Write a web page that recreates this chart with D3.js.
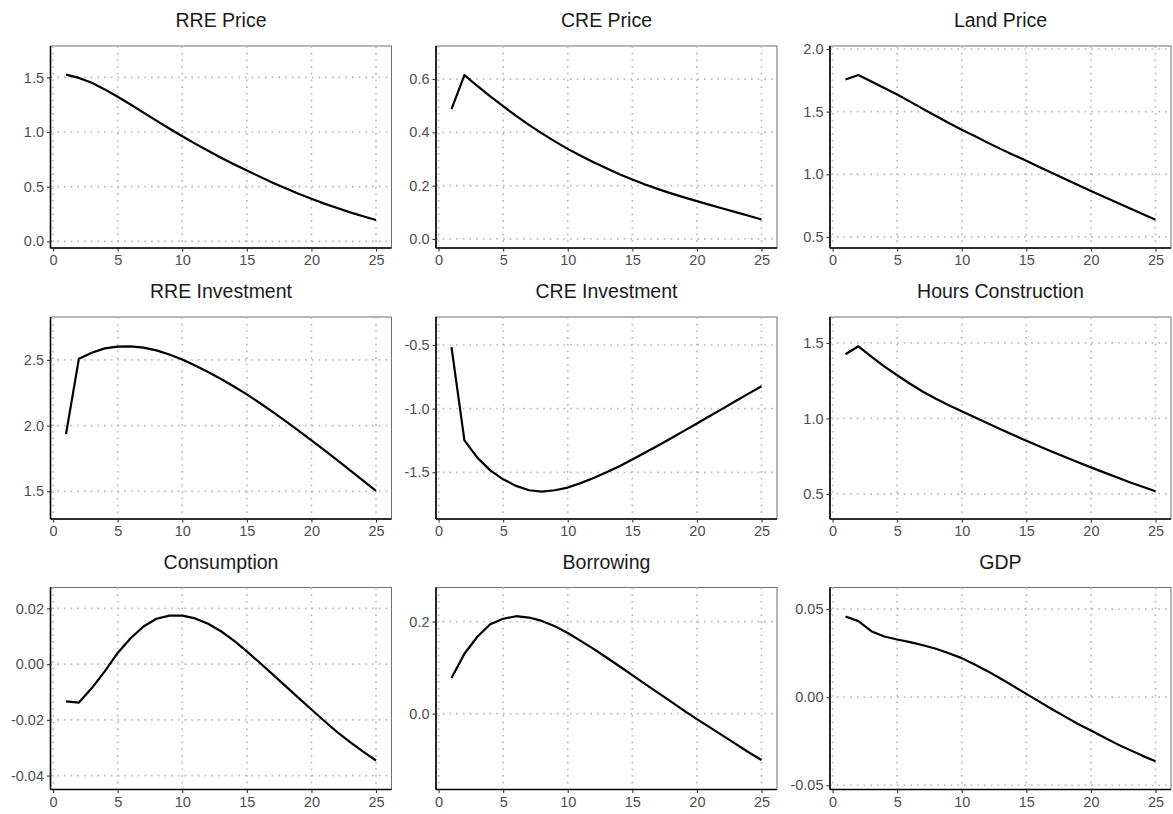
<!DOCTYPE html>
<html>
  <head>
    <meta charset='utf-8'>
    <title>Impulse responses</title>
    <script src='https://d3js.org/d3.v7.min.js'></script>
    <style>
      body { margin: 0; background: #fff; }
      text { font-family: 'Liberation Sans', Arial, sans-serif; }
    </style>
  </head>
  <body>
    <svg id='irf'></svg>
  </body>
</html>
<script>

// horizon (periods)
var periods = d3.range(1, 26);

var titles = ['RRE Price', 'CRE Price', 'Land Price',
              'RRE Investment', 'CRE Investment', 'Hours Construction',
              'Consumption', 'Borrowing', 'GDP'];

// responses
var rrePrice = [1.525, 1.495, 1.45, 1.39, 1.322, 1.252, 1.178, 1.104, 1.032, 0.962, 0.894, 0.828, 0.765,
                0.705, 0.648, 0.592, 0.537, 0.485, 0.435, 0.39, 0.345, 0.305, 0.265, 0.23, 0.195];
var crePrice = [0.487, 0.615, 0.574, 0.535, 0.498, 0.462, 0.428, 0.396, 0.366, 0.338, 0.312, 0.288, 0.265,
                0.243, 0.223, 0.204, 0.187, 0.171, 0.156, 0.142, 0.128, 0.114, 0.1005, 0.087, 0.073];
var landPrice = [1.757, 1.793, 1.74, 1.688, 1.637, 1.58, 1.522, 1.465, 1.41, 1.355, 1.305, 1.253, 1.203,
                 1.155, 1.108, 1.058, 1.01, 0.962, 0.914, 0.867, 0.821, 0.775, 0.73, 0.683, 0.637];
var rreInv = [1.935, 2.51, 2.555, 2.588, 2.602, 2.603, 2.594, 2.573, 2.542, 2.503, 2.458, 2.408, 2.355,
              2.298, 2.238, 2.172, 2.104, 2.034, 1.962, 1.888, 1.813, 1.737, 1.66, 1.582, 1.503];
var creInv = [-0.516, -1.249, -1.385, -1.485, -1.555, -1.607, -1.641, -1.652, -1.641, -1.62, -1.585, -1.545, -1.50,
              -1.452, -1.40, -1.345, -1.29, -1.233, -1.175, -1.117, -1.058, -1.0, -0.94, -0.882, -0.824];
var hoursCons = [1.425, 1.478, 1.41, 1.345, 1.286, 1.23, 1.177, 1.13, 1.088, 1.048, 1.008, 0.968, 0.929,
                 0.89, 0.853, 0.816, 0.78, 0.745, 0.71, 0.676, 0.643, 0.61, 0.578, 0.548, 0.518];
var consumption = [-0.0134, -0.0138, -0.0086, -0.0026, 0.004, 0.0093, 0.0135, 0.0163, 0.0174, 0.0174, 0.0164, 0.0145, 0.0118,
                   0.0084, 0.0046, 0.0005, -0.0037, -0.0079, -0.0121, -0.0163, -0.0204, -0.0244, -0.028, -0.0314, -0.0346];
var borrowing = [0.0775, 0.130, 0.167, 0.194, 0.206, 0.2116, 0.2087, 0.2014, 0.19, 0.175, 0.158, 0.1405, 0.1218,
                 0.1028, 0.0836, 0.0642, 0.0449, 0.0258, 0.0065, -0.012, -0.030, -0.048, -0.066, -0.084, -0.101];
var gdp = [0.0458, 0.0432, 0.0375, 0.0345, 0.0328, 0.0313, 0.0295, 0.0275, 0.025, 0.0222, 0.0186, 0.0148, 0.0106,
           0.0063, 0.0019, -0.0025, -0.0068, -0.011, -0.0152, -0.0189, -0.0227, -0.0265, -0.0299, -0.0333, -0.0364];

var series = [rrePrice, crePrice, landPrice, rreInv, creInv, hoursCons, consumption, borrowing, gdp];

// free y scales, one per panel
var yDomains = [[-0.061, 1.787], [-0.034, 0.724], [0.412, 2.024],
                [1.289, 2.827], [-1.867, -0.28], [0.334, 1.672],
                [-0.045, 0.0275], [-0.165, 0.274], [-0.0524, 0.0623]];
var yTicks = [[0, 0.5, 1, 1.5], [0, 0.2, 0.4, 0.6], [0.5, 1, 1.5, 2],
              [1.5, 2, 2.5], [-1.5, -1, -0.5], [0.5, 1, 1.5],
              [-0.04, -0.02, 0, 0.02], [0, 0.2], [-0.05, 0, 0.05]];
var yDigits = [1, 1, 1, 1, 1, 1, 2, 1, 2];
var xTicks = [0, 5, 10, 15, 20, 25];

var W = 1173, H = 814;
var panelW = 341, panelH = 202;
var colLeft = [50.5, 436, 830];
var rowTop = [46, 317, 587.5];

var svg = d3.select('#irf').attr('width', W).attr('height', H);

var x = d3.scaleLinear().domain([-0.2, 26.2]).range([0, panelW]);

series.forEach(function(vals, i){
    var col = i % 3, row = Math.floor(i / 3);
    var g = svg.append('g')
        .attr('transform', 'translate(' + colLeft[col] + ',' + rowTop[row] + ')');

    var y = d3.scaleLinear().domain(yDomains[i]).range([panelH, 0]);

    // panel frame
    g.append('rect')
        .attr('width', panelW).attr('height', panelH)
        .attr('fill', '#fff').attr('stroke', '#4d4d4d').attr('stroke-width', 0.8);

    // dotted grid
    g.selectAll('.gx').data(xTicks).join('line')
        .attr('x1', d => x(d)).attr('x2', d => x(d))
        .attr('y1', 0).attr('y2', panelH)
        .attr('stroke', '#bbbbbb').attr('stroke-width', 1.7)
        .attr('stroke-dasharray', '1.7,5');
    g.selectAll('.gy').data(yTicks[i]).join('line')
        .attr('y1', d => y(d)).attr('y2', d => y(d))
        .attr('x1', 0).attr('x2', panelW)
        .attr('stroke', '#bbbbbb').attr('stroke-width', 1.7)
        .attr('stroke-dasharray', '1.7,5');

    // response line
    var line = d3.line()
        .x(function(d, j){ return x(periods[j]); })
        .y(function(d){ return y(d); });
    g.append('path')
        .datum(vals)
        .attr('d', line)
        .attr('fill', 'none')
        .attr('stroke', '#000')
        .attr('stroke-width', 2.2)
        .attr('stroke-linejoin', 'round');

    // axes
    var xAxis = g.append('g')
        .attr('transform', 'translate(0,' + panelH + ')')
        .call(d3.axisBottom(x).tickValues(xTicks).tickSize(3.5).tickPadding(3.5));
    var yAxis = g.append('g')
        .call(d3.axisLeft(y).tickValues(yTicks[i]).tickSize(3.5).tickPadding(3)
              .tickFormat(function(d){ return d.toFixed(yDigits[i]); }));

    [xAxis, yAxis].forEach(function(a){
        a.select('.domain').attr('stroke', '#000').attr('stroke-width', 1.6);
        a.selectAll('.tick line').attr('stroke', '#333').attr('stroke-width', 1.1);
        a.selectAll('.tick text').attr('fill', '#4d4d4d').style('font-size', '14.5px');
    });
    // flat domain lines, no outer ticks
    xAxis.select('.domain').attr('d', 'M0,0H' + panelW);
    yAxis.select('.domain').attr('d', 'M0,' + panelH + 'V0');

    // strip title
    g.append('text')
        .attr('x', panelW / 2)
        .attr('y', -19)
        .attr('text-anchor', 'middle')
        .attr('fill', '#1a1a1a')
        .style('font-size', '19.5px')
        .text(titles[i]);
});

</script>
